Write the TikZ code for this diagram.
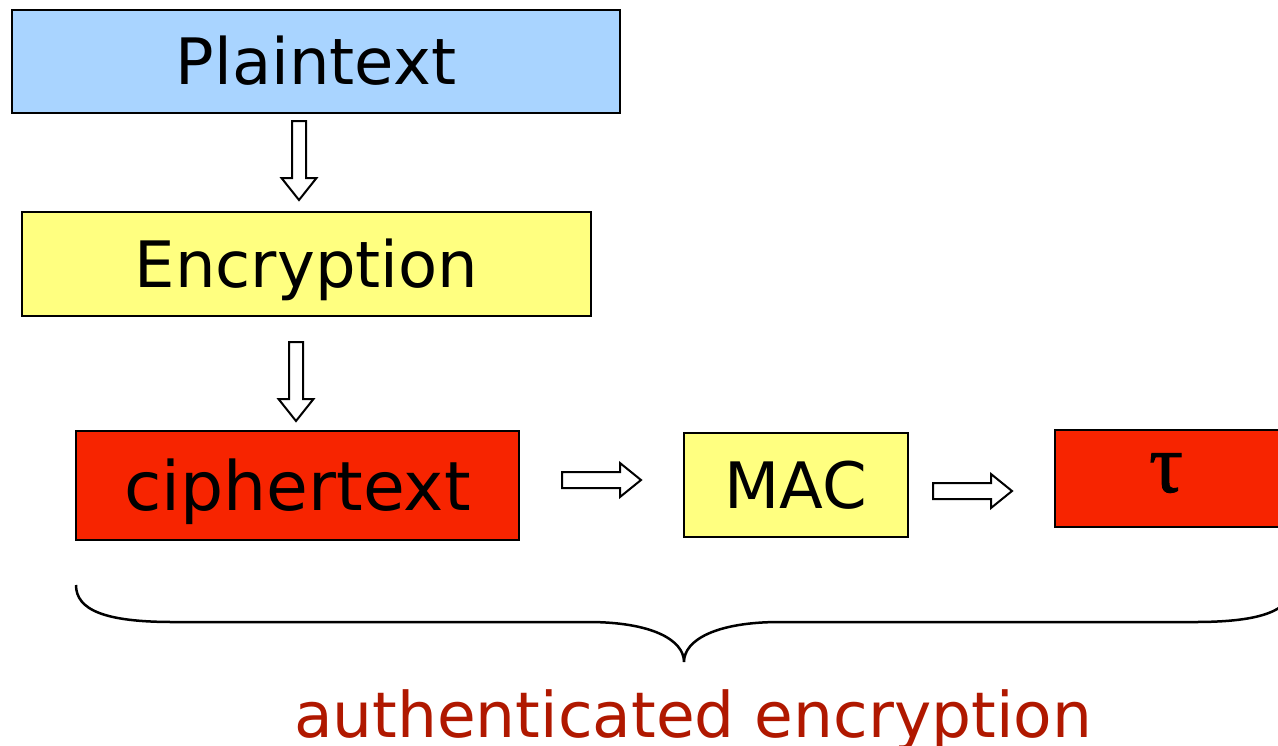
\documentclass[tikz,border=0pt]{standalone}
\usepackage{fontspec}
\setmainfont{DejaVu Sans}
\newfontfamily\greekserif[FakeBold=1.2]{Liberation Serif}
\definecolor{plainblue}{HTML}{A9D4FF}
\definecolor{procyellow}{HTML}{FFFF80}
\definecolor{cipherred}{HTML}{F72400}
\definecolor{labelred}{HTML}{B01800}
\begin{document}
\begin{tikzpicture}[x=1pt,y=-1pt,
  box/.style={draw=black, line width=2pt, inner sep=0pt,
    font=\fontsize{64}{70}\selectfont, text height=46pt, text depth=0pt},
  arrowline/.style={draw=black, fill=white, line width=2pt, line join=miter},
  darrow/.pic={\path[arrowline] (-7,0) -- (-7,57) -- (-17.5,57) -- (0,79)
      -- (17.5,57) -- (7,57) -- (7,0) -- cycle;},
  rarrow/.pic={\path[arrowline] (0,-8) -- (58,-8) -- (58,-17) -- (79,0)
      -- (58,17) -- (58,8) -- (0,8) -- cycle;},
  brace/.style={draw=black, line width=2.5pt}]
\useasboundingbox (0,0) rectangle (1278,745);
\clip (0,0) rectangle (1278,745);

% processing chain
\node[box, fill=plainblue, minimum width=608pt, minimum height=103pt] (plain) at (316,61.5) {Plaintext};
\node[box, fill=procyellow, minimum width=569pt, minimum height=104pt] (enc) at (306.5,264) {Encryption};
\node[box, fill=cipherred, minimum width=443pt, minimum height=109pt,
  font=\fontsize{68}{74}\selectfont, text height=49pt] (cipher) at (297.5,485.5) {ciphertext};
\node[box, fill=procyellow, minimum width=224pt, minimum height=104pt] (mac) at (796,485) {MAC};
\node[box, fill=cipherred, minimum width=235pt, minimum height=97pt] (tagbox) at (1172.5,478.5) {};
\node[font=\greekserif\fontsize{84}{90}\selectfont, anchor=base, inner sep=0pt] (tag) at (1166,492) {τ};

% block arrows between the stages
\pic at (299,121) {darrow};
\pic at (296,342) {darrow};
\pic at (562,480) {rarrow};
\pic at (933,491) {rarrow};

% brace under the whole construction
\coordinate (bl) at (76,585);
\coordinate (bm) at (684,662);
\coordinate (br) at (1292,585);
\path[brace] (bl) .. controls (76,610) and (105,622) .. (173,622) -- (588,622)
  .. controls (652,622) and (684,640) .. (bm)
  .. controls (684,640) and (716,622) .. (780,622) -- (1195,622)
  .. controls (1263,622) and (1292,610) .. (br);

\node[font=\fontsize{63}{70}\selectfont, text=labelred, anchor=base, inner sep=0pt] (label) at (693,737) {authenticated encryption};
\end{tikzpicture}
\end{document}
